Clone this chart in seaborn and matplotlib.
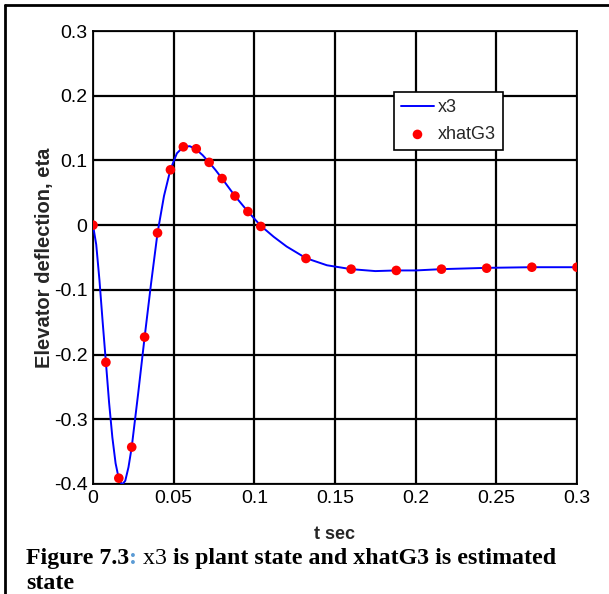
import numpy as np
import pandas as pd
import matplotlib
matplotlib.use("Agg")
import matplotlib.pyplot as plt
import seaborn as sns

# plant state x3 (continuous curve)
t_line = [0, 0.002, 0.004, 0.006, 0.008, 0.010, 0.012, 0.014, 0.016, 0.018,
          0.020, 0.022, 0.024, 0.028, 0.032, 0.036, 0.040, 0.044, 0.048, 0.052,
          0.056, 0.060, 0.064, 0.068, 0.072, 0.076, 0.080, 0.088, 0.096, 0.104,
          0.112, 0.120, 0.132, 0.145, 0.160, 0.175, 0.188, 0.200, 0.216, 0.230,
          0.244, 0.272, 0.300]
x3 = [0, -0.03, -0.085, -0.15, -0.212, -0.275, -0.328, -0.368, -0.392, -0.401,
      -0.395, -0.374, -0.343, -0.26, -0.173, -0.09, -0.012, 0.045, 0.086, 0.111,
      0.121, 0.122, 0.117, 0.108, 0.097, 0.085, 0.072, 0.045, 0.021, -0.001,
      -0.018, -0.033, -0.051, -0.062, -0.068, -0.071, -0.070, -0.070, -0.068, -0.067,
      -0.066, -0.065, -0.065]

# estimated state xhatG3 (markers)
t_est = [0, 0.008, 0.016, 0.024, 0.032, 0.040, 0.048, 0.056, 0.064, 0.072,
         0.080, 0.088, 0.096, 0.104, 0.132, 0.160, 0.188, 0.216, 0.244, 0.272, 0.300]
xhatG3 = [0, -0.212, -0.391, -0.343, -0.173, -0.012, 0.0855, 0.121, 0.118, 0.097,
          0.072, 0.045, 0.021, -0.002, -0.0515, -0.068, -0.070, -0.068, -0.0665, -0.065, -0.065]

x_ticks = [0, 0.05, 0.1, 0.15, 0.2, 0.25, 0.3]
x_ticklabels = ["0", "0.05", "0.1", "0.15", "0.2", "0.25", "0.3"]
y_ticks = [-0.4, -0.3, -0.2, -0.1, 0, 0.1, 0.2, 0.3]
y_ticklabels = ["-0.4", "-0.3", "-0.2", "-0.1", "0", "0.1", "0.2", "0.3"]

sns.set_style("white")
plt.rcParams['font.family'] = ['Liberation Sans', 'DejaVu Sans']

fig = plt.figure(figsize=(6.09, 5.94), dpi=100)
ax = fig.add_axes([93 / 609, 1 - 484 / 594, 484 / 609, 453 / 594])

line_df = pd.DataFrame({"t": t_line, "y": x3})
est_df = pd.DataFrame({"t": t_est, "y": xhatG3})

sns.lineplot(data=line_df, x="t", y="y", ax=ax, color="#0000ff", linewidth=1.4,
             label="x3", zorder=3)
sns.scatterplot(data=est_df, x="t", y="y", ax=ax, color="#ff0000", s=48,
                edgecolor="none", label="xhatG3", zorder=4)

ax.set_xlim(0, 0.3)
ax.set_ylim(-0.4, 0.3)
ax.set_xticks(x_ticks)
ax.set_xticklabels(x_ticklabels)
ax.set_yticks(y_ticks)
ax.set_yticklabels(y_ticklabels)
ax.tick_params(axis="both", labelsize=14, length=0, pad=4, colors="black")
ax.grid(True, color="black", linewidth=1.6)
ax.set_axisbelow(True)
for sp in ax.spines.values():
    sp.set_visible(True)
    sp.set_color("black")
    sp.set_linewidth(1.3)

ax.set_xlabel("t sec", fontsize=13, fontweight="bold", labelpad=14)
ax.set_ylabel("Elevator deflection, eta", fontsize=14.5, fontweight="bold", labelpad=0)

leg = ax.legend(loc="upper left", bbox_to_anchor=(301 / 484, 1 - 61 / 453),
                borderaxespad=0, fontsize=13, frameon=True, fancybox=False,
                edgecolor="black", borderpad=0.4, handlelength=1.8, handletextpad=0.25,
                labelspacing=0.55, framealpha=1)
leg.get_frame().set_linewidth(1.2)

# outer frame lines (top and left)
fig.add_artist(plt.Line2D([5 / 609, 1], [1 - 5 / 594, 1 - 5 / 594], color="black",
                          linewidth=2, transform=fig.transFigure))
fig.add_artist(plt.Line2D([5 / 609, 5 / 609], [0, 1 - 5 / 594], color="black",
                          linewidth=2, transform=fig.transFigure))

# caption with mixed styling
fig.canvas.draw()
renderer = fig.canvas.get_renderer()
serif = ['Liberation Serif', 'DejaVu Serif']
parts = [("Figure 7.3", "bold", "black"), (":", "bold", "#5b9bd5"),
         (" x3", "normal", "black"), (" is plant state and xhatG3 is estimated", "bold", "black")]
x0 = 26 / 609
y0 = 1 - 564 / 594
for txt, w, c in parts:
    t = fig.text(x0, y0, txt, fontsize=17.2, fontweight=w, color=c, family=serif,
                 ha="left", va="baseline")
    bb = t.get_window_extent(renderer)
    x0 = bb.x1 / fig.bbox.width
fig.text(26 / 609, 1 - 589 / 594, "state", fontsize=17.2, fontweight="bold",
         color="black", family=serif, ha="left", va="baseline")

fig.savefig("out.png", dpi=100)
